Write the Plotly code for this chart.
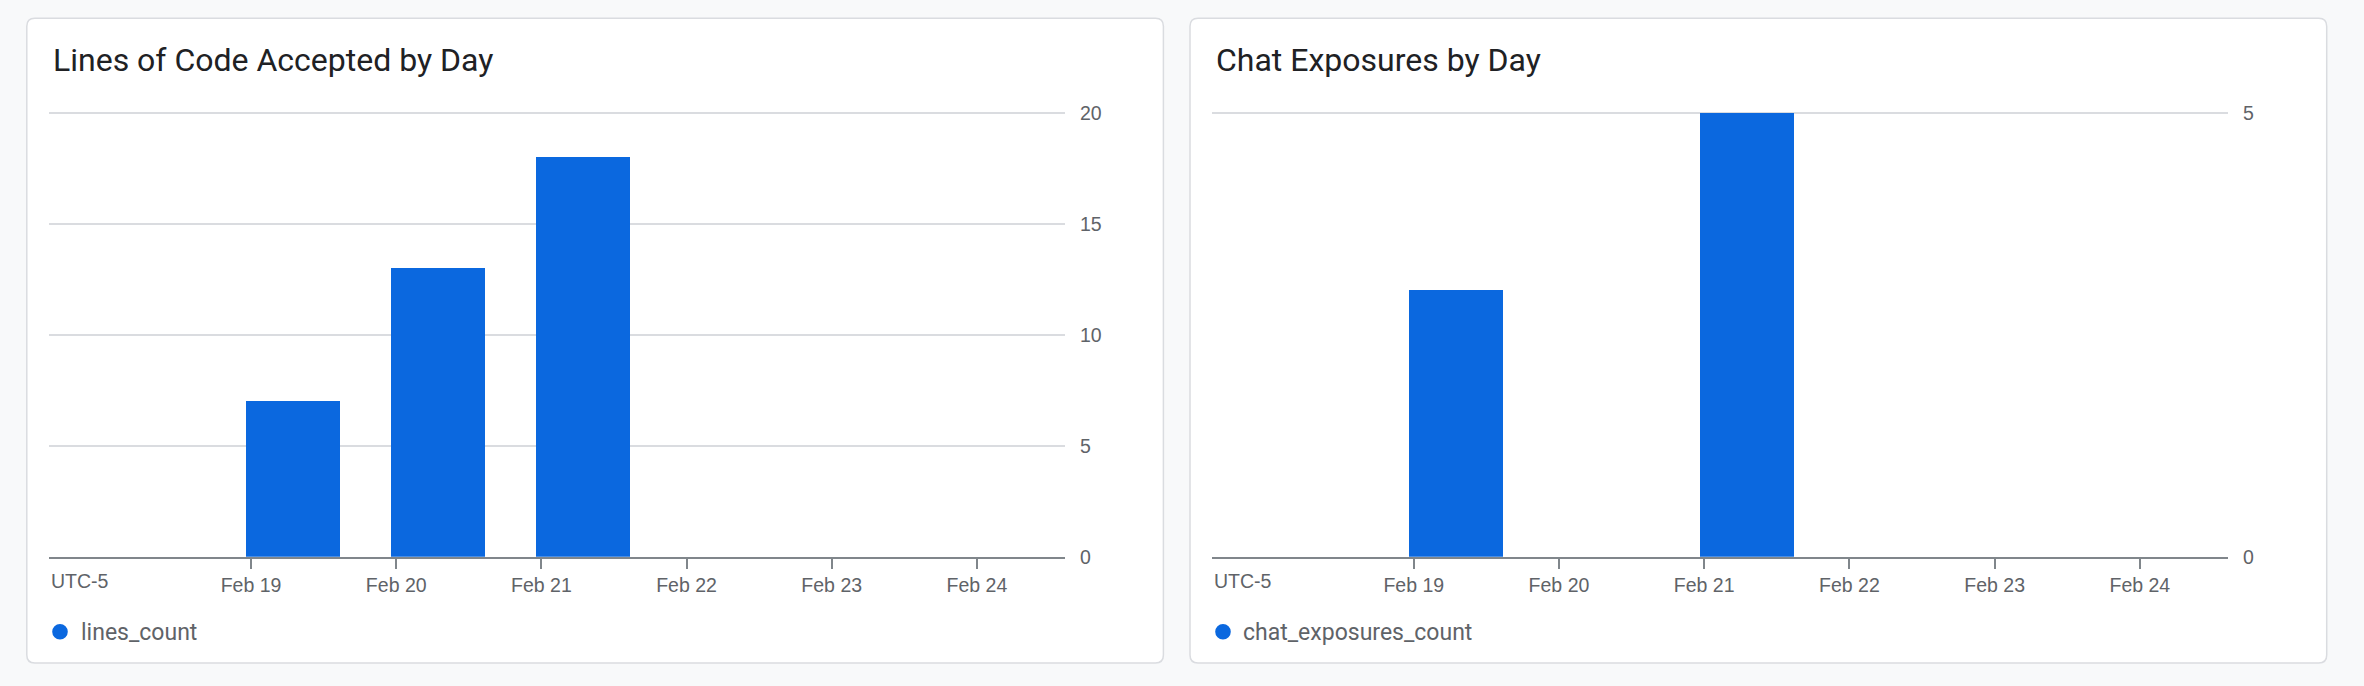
import plotly.graph_objects as go
import pandas as pd

# ---------------- data ----------------
days = ["2024-02-19", "2024-02-20", "2024-02-21", "2024-02-22", "2024-02-23", "2024-02-24"]
tick_labels = ["Feb 19", "Feb 20", "Feb 21", "Feb 22", "Feb 23", "Feb 24"]
lines_count = [7, 13, 18, 0, 0, 0]
chat_exposures_count = [3, 0, 5, 0, 0, 0]
titles = ["Lines of Code Accepted by Day", "Chat Exposures by Day"]
series_names = ["lines_count", "chat_exposures_count"]
timezone_label = "UTC-5"

# ---------------- layout helpers ----------------
W, H = 2364, 686
BLUE = "#0b68df"
GRID = "#dadce0"
AXIS = "#80868b"
TXT = "#5f6368"
TITLE = "#202124"
FONT = "Roboto"
TICKFONT = "Liberation Sans, Arial, sans-serif"


def px(x):
    return x / W


def py(y):
    return (H - y) / H


DAY_MS = 86400000
t0 = pd.Timestamp(days[0])
x_start = (t0 - pd.Timedelta(days=1.392)).strftime("%Y-%m-%d %H:%M:%S")
x_end = (t0 + pd.Timedelta(days=5.607)).strftime("%Y-%m-%d %H:%M:%S")

panels = [
    dict(card=(26.8, 18.3, 1163.4, 663), plot=(49, 1065), title_x=50.8,
         legend_dot=60, legend_text=78.5, ymax=20, dtick=5),
    dict(card=(1190, 18.3, 2326.7, 663), plot=(1211.6, 2228), title_x=1214,
         legend_dot=1223, legend_text=1241, ymax=5, dtick=5),
]
values = [lines_count, chat_exposures_count]

fig = go.Figure()
shapes = []
annotations = []

y_top, y_bottom = 112.7, 556.7
PAD = 0.006  # small headroom so the top gridline is drawn

for i, p in enumerate(panels):
    xa = "x" if i == 0 else "x2"
    ya = "y" if i == 0 else "y2"
    fig.add_trace(go.Bar(
        x=days, y=values[i], name=series_names[i],
        marker=dict(color=BLUE, line=dict(width=0)),
        offset=-0.034 * DAY_MS, width=[0.647 * DAY_MS] * len(days),
        xaxis=xa, yaxis=ya, showlegend=False,
        hovertemplate="%{x|%b %d}: %{y}<extra>" + series_names[i] + "</extra>",
    ))

    # card background
    x0, y0, x1, y1 = p["card"]
    r = 8
    rx, ry = r / W, r / H
    X0, X1, Y0, Y1 = px(x0), px(x1), py(y0), py(y1)
    path = (f"M {X0+rx},{Y0} L {X1-rx},{Y0} Q {X1},{Y0} {X1},{Y0-ry} "
            f"L {X1},{Y1+ry} Q {X1},{Y1} {X1-rx},{Y1} L {X0+rx},{Y1} "
            f"Q {X0},{Y1} {X0},{Y1+ry} L {X0},{Y0-ry} Q {X0},{Y0} {X0+rx},{Y0} Z")
    shapes.append(dict(type="path", path=path, xref="paper", yref="paper",
                       fillcolor="white", line=dict(color=GRID, width=1.5), layer="below"))

    # title
    annotations.append(dict(text=titles[i], x=px(p["title_x"]), y=py(60), xref="paper", yref="paper",
                            xanchor="left", yanchor="middle", showarrow=False,
                            font=dict(family=FONT, size=32, color=TITLE)))
    # timezone label
    annotations.append(dict(text=timezone_label, x=px(p["plot"][0]), y=py(581), xref="paper", yref="paper",
                            xanchor="left", yanchor="middle", showarrow=False,
                            font=dict(family=TICKFONT, size=19.5, color=TXT)))
    # legend
    cx, cy, rr = p["legend_dot"], 631.7, 7.8
    shapes.append(dict(type="circle", xref="paper", yref="paper",
                       x0=px(cx - rr), x1=px(cx + rr), y0=py(cy + rr), y1=py(cy - rr),
                       fillcolor=BLUE, line=dict(width=0)))
    annotations.append(dict(text=series_names[i], x=px(p["legend_text"]), y=py(632), xref="paper", yref="paper",
                            xanchor="left", yanchor="middle", showarrow=False,
                            font=dict(family=FONT, size=23, color=TXT)))

    xaxis = dict(domain=[px(p["plot"][0]), px(p["plot"][1])], type="date",
                 range=[x_start, x_end], tickvals=days, ticktext=tick_labels,
                 showgrid=False, zeroline=False, showline=True, linecolor=AXIS, linewidth=2,
                 ticks="outside", ticklen=10, tickwidth=1.5, tickcolor=AXIS, automargin=False,
                 tickfont=dict(family=TICKFONT, size=19.5, color=TXT), anchor=ya, fixedrange=True)
    top_px = y_top - PAD * (y_bottom - y_top)
    yaxis = dict(domain=[py(y_bottom), py(top_px)], range=[0, p["ymax"] * (1 + PAD)],
                 dtick=p["dtick"], tick0=0, automargin=False,
                 side="right", showgrid=True, gridcolor=GRID, gridwidth=1.5, zeroline=False,
                 showline=False, ticks="", ticklabelstandoff=14,
                 tickfont=dict(family=TICKFONT, size=19.5, color=TXT), anchor=xa, fixedrange=True)
    if i == 0:
        fig.update_layout(xaxis=xaxis, yaxis=yaxis)
    else:
        fig.update_layout(xaxis2=xaxis, yaxis2=yaxis)

fig.update_layout(
    width=W, height=H, margin=dict(l=0, r=0, t=0, b=0, autoexpand=False),
    paper_bgcolor="#f8f9fa", plot_bgcolor="rgba(0,0,0,0)",
    font=dict(family=FONT), shapes=shapes, annotations=annotations,
    bargap=0, showlegend=False,
)

fig.write_html(
    "out.html",
    config={"displayModeBar": False},
    post_script="document.body.style.margin='0';document.body.style.overflow='hidden';",
)
